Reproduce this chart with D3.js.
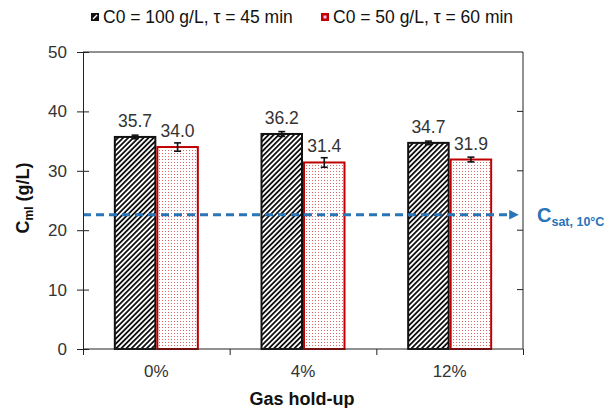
<!DOCTYPE html>
<html><head><meta charset="utf-8">
<script src="https://cdn.jsdelivr.net/npm/d3@7"></script>
<style>body{margin:0;background:#fff;}svg, svg text{font-family:"Liberation Sans",Arial,sans-serif;}</style>
</head><body>
<svg id="c" width="605" height="408"></svg>
<script>
const categories = ["0%", "4%", "12%"];
const seriesNames = ["C0 = 100 g/L, τ = 45 min", "C0 = 50 g/L, τ = 60 min"];
const seriesA = [35.7, 36.2, 34.7];
const seriesB = [34.0, 31.4, 31.9];
const errA = [0.3, 0.4, 0.3];
const errB = [0.7, 0.8, 0.4];
const yTicks = [0, 10, 20, 30, 40, 50];
const csat = 22.6;

const FONT = "Liberation Sans, Arial, sans-serif";
const svg = d3.select("#c");
const L = 83, R = 523, T = 52, B = 349;
const x = d3.scaleBand().domain(categories).range([L, R]).paddingInner(0).paddingOuter(0);
const y = d3.scaleLinear().domain([0, 50]).range([B, T]);
const barW = 42.5;

const defs = svg.append("defs");
const hatch = defs.append("pattern").attr("id","hatch").attr("patternUnits","userSpaceOnUse")
  .attr("width",3.6).attr("height",3.6).attr("patternTransform","rotate(45)");
hatch.append("rect").attr("width",3.6).attr("height",3.6).attr("fill","#fff");
hatch.append("rect").attr("x",0).attr("width",1.8).attr("height",3.6).attr("fill","#111");
const dots = defs.append("pattern").attr("id","dots").attr("patternUnits","userSpaceOnUse")
  .attr("width",3).attr("height",3);
dots.append("rect").attr("width",3).attr("height",3).attr("fill","#fff");
dots.append("rect").attr("width",1).attr("height",1).attr("fill","#d66");
const mk = defs.append("marker").attr("id","arr").attr("viewBox","0 0 10 10").attr("refX",5).attr("refY",5)
  .attr("markerWidth",3.2).attr("markerHeight",3.2).attr("orient","auto");
mk.append("path").attr("d","M0,0 L10,5 L0,10 Z").attr("fill","#2a74b8");

// frame
svg.append("line").attr("x1",L).attr("x2",R).attr("y1",T).attr("y2",T).attr("stroke","#222").attr("stroke-width",1);
svg.append("line").attr("x1",R).attr("x2",R).attr("y1",T).attr("y2",B).attr("stroke","#222").attr("stroke-width",1);
svg.selectAll(".rt").data(yTicks.filter(d=>d>0&&d<50)).enter().append("line")
  .attr("x1",R-6).attr("x2",R).attr("y1",d=>y(d)).attr("y2",d=>y(d)).attr("stroke","#222");

// bars
const bx = (c,k)=> x(c) + x.bandwidth()/2 + (k===0 ? -barW : 0);
const series = [
  {vals:seriesA, errs:errA, fill:"url(#hatch)", stroke:"#111"},
  {vals:seriesB, errs:errB, fill:"url(#dots)", stroke:"#c00000"}
];
series.forEach((s,k)=>{
  svg.selectAll(".bar"+k).data(categories).enter().append("rect")
    .attr("x",c=>bx(c,k)+1).attr("width",barW-2)
    .attr("y",(c,i)=>y(s.vals[i])).attr("height",(c,i)=>B-y(s.vals[i]))
    .attr("fill",s.fill).attr("stroke",s.stroke).attr("stroke-width",2);
});
series.forEach((s,k)=>{
  categories.forEach((c,i)=>{
    const cx = bx(c,k)+barW/2;
    const g = svg.append("g").attr("stroke","#111").attr("stroke-width",1.6);
    g.append("line").attr("x1",cx).attr("x2",cx).attr("y1",y(s.vals[i]+s.errs[i])).attr("y2",y(s.vals[i]-s.errs[i]));
    [s.vals[i]+s.errs[i], s.vals[i]-s.errs[i]].forEach(v=>
      g.append("line").attr("x1",cx-3.5).attr("x2",cx+3.5).attr("y1",y(v)).attr("y2",y(v)));
  });
});
series.forEach((s,k)=>{
  svg.selectAll(".vl"+k).data(categories).enter().append("text")
    .attr("x",c=>bx(c,k)+barW/2).attr("y",(c,i)=>y(s.vals[i])-10)
    .attr("text-anchor","middle").attr("font-size",17.5).attr("fill","#333").attr("font-family",FONT)
    .text((c,i)=>s.vals[i].toFixed(1));
});

// dashed Csat line
svg.append("line").attr("x1",L).attr("x2",514).attr("y1",y(csat)).attr("y2",y(csat))
  .attr("stroke","#2a74b8").attr("stroke-width",3).attr("stroke-dasharray","8,5").attr("marker-end","url(#arr)");
const ct = svg.append("text").attr("x",537).attr("y",y(csat)+7).attr("fill","#2a74b8").attr("font-weight","bold")
  .attr("font-size",20).attr("font-family",FONT);
ct.append("tspan").text("C");
ct.append("tspan").attr("font-size",12.5).attr("dy",4).text("sat, 10°C");

// axes
const yAx = svg.append("g").attr("transform",`translate(${L},0)`)
  .call(d3.axisLeft(y).tickValues(yTicks).tickSize(6).tickPadding(10));
yAx.selectAll(".tick line").attr("x1",-6).attr("x2",6);
const xAx = svg.append("g").attr("transform",`translate(0,${B})`)
  .call(d3.axisBottom(d3.scaleLinear().domain([0,3]).range([L,R])).tickValues([0,1,2,3]).tickSize(6).tickFormat(""));
[yAx,xAx].forEach(a=>{
  a.attr("font-family",FONT);
  a.select(".domain").attr("stroke","#222").attr("stroke-width",1);
  a.selectAll(".tick line").attr("stroke","#222");
  a.selectAll("text").attr("font-size",17).attr("fill","#333");
});
xAx.select(".domain").attr("d",`M${L},0H${R}`);
svg.selectAll(".xl").data(categories).enter().append("text")
  .attr("x",c=>x(c)+x.bandwidth()/2).attr("y",377).attr("text-anchor","middle").attr("font-family",FONT)
  .attr("font-size",17).attr("fill","#333").text(c=>c);

// titles
svg.append("text").attr("x",302).attr("y",405).attr("text-anchor","middle").attr("font-family",FONT)
  .attr("font-weight","bold").attr("font-size",18).attr("fill","#111").text("Gas hold-up");
const yt = svg.append("text").attr("transform","translate(29,198) rotate(-90)").attr("text-anchor","middle")
  .attr("font-weight","bold").attr("font-size",18).attr("fill","#111").attr("font-family",FONT);
yt.append("tspan").text("C");
yt.append("tspan").attr("font-size",12).attr("dy",4).text("ml");
yt.append("tspan").attr("dy",-4).text(" (g/L)");

// legend
const leg = [{x:91, color:"#111", name:seriesNames[0]},
             {x:321, color:"#c00000", name:seriesNames[1]}];
leg.forEach((l,k)=>{
  svg.append("rect").attr("x",l.x).attr("y",13).attr("width",8).attr("height",8).attr("fill",l.color);
  if (k===0) {
    svg.append("line").attr("x1",l.x+2).attr("y1",19).attr("x2",l.x+6).attr("y2",15).attr("stroke","#fff").attr("stroke-width",1.5);
  } else {
    svg.append("rect").attr("x",l.x+2.5).attr("y",15.5).attr("width",3).attr("height",3).attr("fill","#fbe");
  }
  svg.append("text").attr("x",l.x+12).attr("y",23).attr("font-size",17.5).attr("fill","#111")
    .attr("font-family",FONT).text(l.name);
});
</script>
</body></html>
